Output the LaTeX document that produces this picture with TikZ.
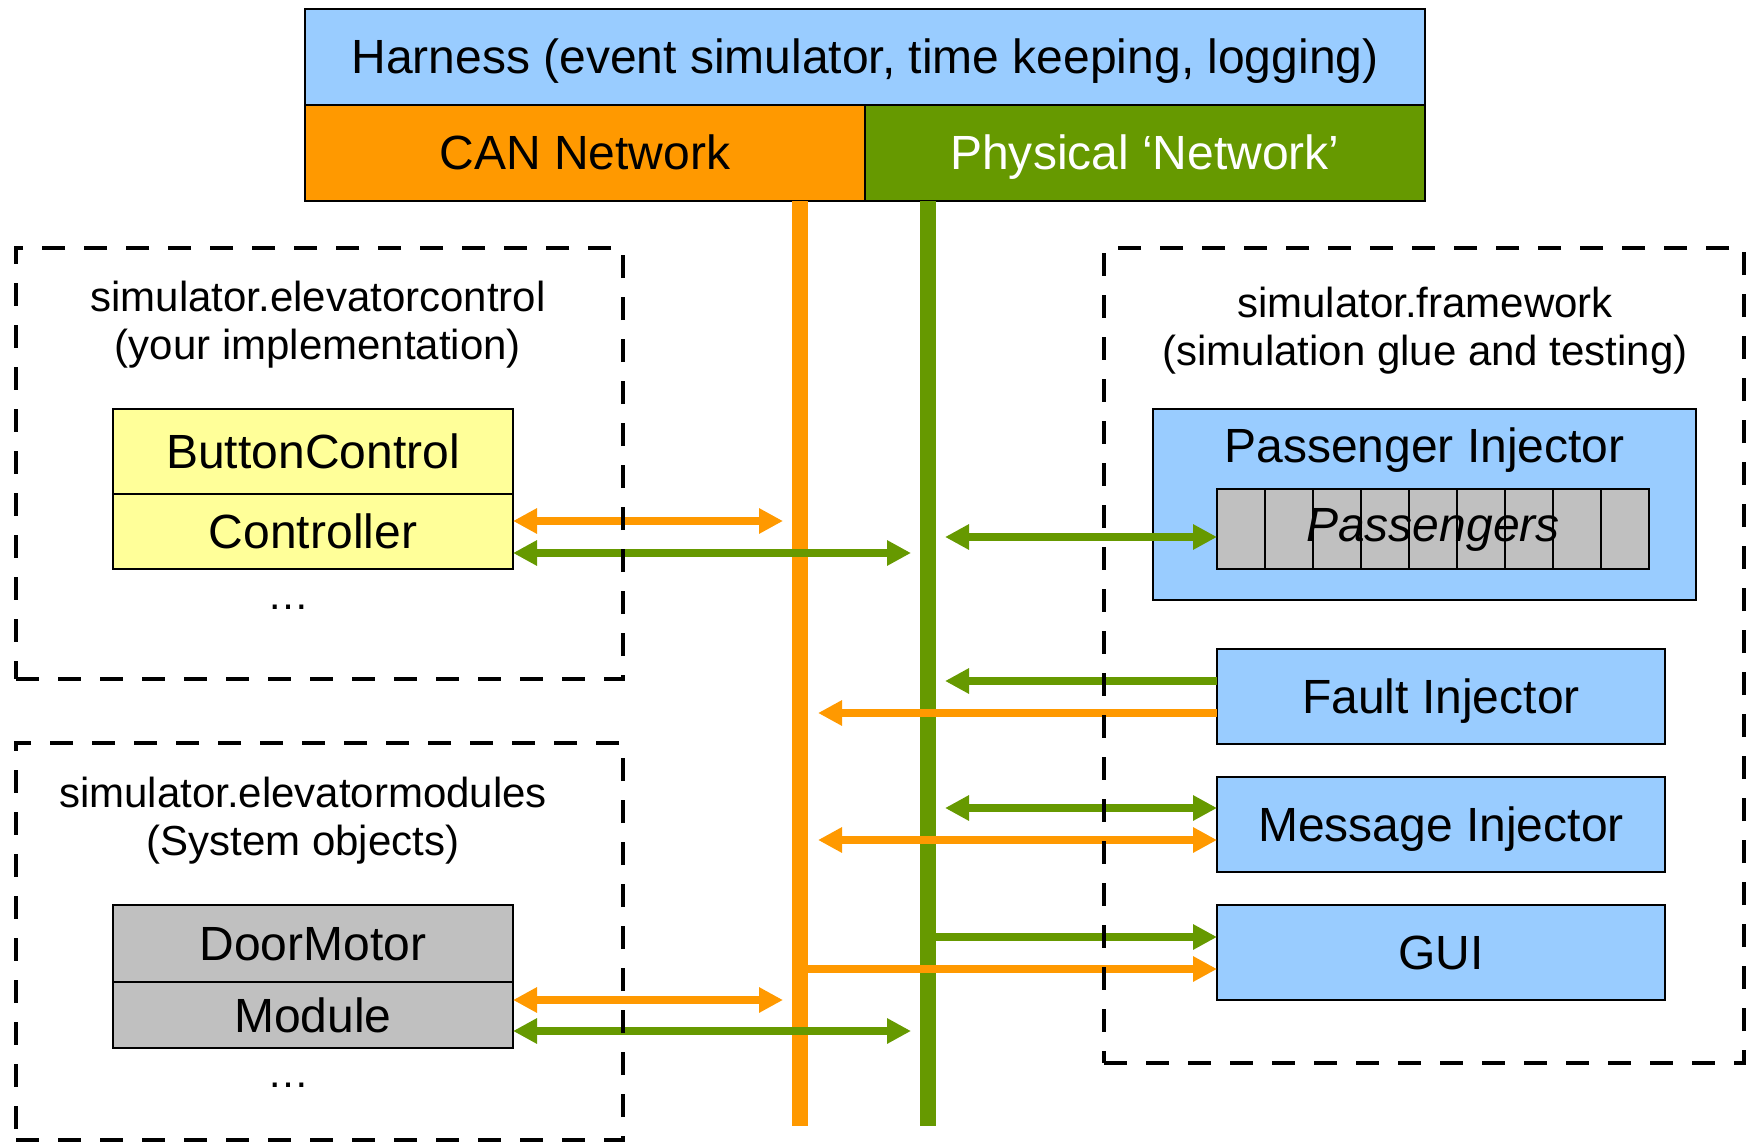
\documentclass[tikz,border=0pt]{standalone}
\usepackage{fontspec}
\setmainfont{Liberation Sans}
\usetikzlibrary{arrows.meta, positioning, calc}
\definecolor{canorange}{HTML}{FF9900}
\definecolor{physgreen}{HTML}{669900}
\definecolor{harnessblue}{HTML}{99CCFF}
\definecolor{ctrlyellow}{HTML}{FFFF99}
\definecolor{modgray}{HTML}{C0C0C0}
\tikzset{
  lbl/.style={font=\fontsize{48}{56}\selectfont, text height=35pt, text depth=1pt},
  box/.style={lbl, draw, line width=2pt, fill=#1, inner sep=0pt, outer sep=0pt},
  grp/.style={draw, line width=4.5pt, dash pattern=on 23pt off 19pt, inner sep=0pt, outer sep=0pt},
  grptitle/.style={align=center, font=\fontsize{42}{48}\selectfont},
  dotsnode/.style={anchor=base, font=\fontsize{42}{48}\selectfont},
  bus/.style={draw=#1, line width=16pt},
  carr/.style={draw=#1, line width=8pt},
  >={Triangle[length=24pt, width=24pt]},
}
\begin{document}
\begin{tikzpicture}[x=1pt, y=-1pt]
    \useasboundingbox (0,0) rectangle (1752,1142);
    \node[box=harnessblue, minimum width=1120pt, minimum height=96pt] (harness) at (865,57) {Harness (event simulator, time keeping, logging)};
    \node[box=canorange, minimum width=560pt, minimum height=96pt, below right=0pt and 0pt of harness.south west] (can) {CAN Network};
    \node[box=physgreen, text=white, minimum width=560pt, minimum height=96pt, right=0pt of can] (phys) {Physical ‘Network’};

    \coordinate (obus) at (800,1126);
    \coordinate (gbus) at (928,1126);
    \draw[bus=canorange] (can.south -| obus) -- (obus);
    \draw[bus=physgreen] (phys.south -| gbus) -- (gbus);

    \node[box=ctrlyellow, minimum width=400pt, minimum height=85pt] (buttonctl) at (313,451.5) {ButtonControl};
    \node[box=ctrlyellow, minimum width=400pt, minimum height=75pt, below=0pt of buttonctl] (controller) {Controller};
    \node[dotsnode] (ctrldots) at (288,609) {…};
    \node[box=modgray, minimum width=400pt, minimum height=77pt] (doormotor) at (313,943.5) {DoorMotor};
    \node[box=modgray, minimum width=400pt, minimum height=66pt, below=0pt of doormotor] (module) {Module};
    \node[dotsnode] (moddots) at (288,1087) {…};

    \node[box=harnessblue, minimum width=543pt, minimum height=191pt] (pinj) at (1424.5,504.5) {};
    \node[lbl] (pinjtitle) at ($(pinj.north)+(0,36)$) {Passenger Injector};
    \node[box=modgray, font=\fontsize{48}{56}\selectfont\itshape, text depth=10pt, minimum width=432pt, minimum height=80pt] (passengers) at (1433,529) {Passengers};
    \foreach \i in {1,...,8}
      \draw[line width=2pt] ([xshift=\i*48pt]passengers.north west) -- ([xshift=\i*48pt]passengers.south west);
    \node[box=harnessblue, minimum width=448pt, minimum height=95pt] (fault) at (1441,696.5) {Fault Injector};
    \node[box=harnessblue, minimum width=448pt, minimum height=95pt, below=33pt of fault] (msg) {Message Injector};
    \node[box=harnessblue, minimum width=448pt, minimum height=95pt, below=33pt of msg] (gui) {GUI};

    \coordinate (ctlO) at (783,521);
    \coordinate (ctlG) at (911,553);
    \coordinate (modO) at (783,1000);
    \coordinate (modG) at (911,1031);
    \coordinate (pasG) at (945,537);
    \coordinate (fltG) at (945,681);
    \coordinate (fltO) at (818,713);
    \coordinate (msgG) at (945,808);
    \coordinate (msgO) at (818,840);
    \coordinate (guiG) at (928,937);
    \coordinate (guiO) at (800,969);
    \draw[carr=canorange, <->] (controller.east |- ctlO) -- (ctlO);
    \draw[carr=physgreen, <->] (controller.east |- ctlG) -- (ctlG);
    \draw[carr=canorange, <->] (module.east |- modO) -- (modO);
    \draw[carr=physgreen, <->] (module.east |- modG) -- (modG);
    \draw[carr=physgreen, <->] (pasG) -- (passengers.west |- pasG);
    \draw[carr=physgreen, ->] (fault.west |- fltG) -- (fltG);
    \draw[carr=canorange, ->] (fault.west |- fltO) -- (fltO);
    \draw[carr=physgreen, <->] (msgG) -- (msg.west |- msgG);
    \draw[carr=canorange, <->] (msgO) -- (msg.west |- msgO);
    \draw[carr=physgreen, ->] (guiG) -- (gui.west |- guiG);
    \draw[carr=canorange, ->] (guiO) -- (gui.west |- guiO);

    \node[grp, minimum width=607pt, minimum height=431pt] (grpctrl) at (319.5,463.5) {};
    \node[grptitle] (ctrltitle) at (318,324.5) {simulator.elevatorcontrol\\(your implementation)};
    \node[grp, minimum width=607pt, minimum height=397pt] (grpmod) at (319.5,941.5) {};
    \node[grptitle] (modtitle) at (303,820.5) {simulator.elevatormodules\\(System objects)};
    \node[grp, minimum width=640pt, minimum height=815pt] (grpfw) at (1424,655.5) {};
    \node[grptitle] (fwtitle) at (1425,331) {simulator.framework\\(simulation glue and testing)};
  \end{tikzpicture}
\end{document}
